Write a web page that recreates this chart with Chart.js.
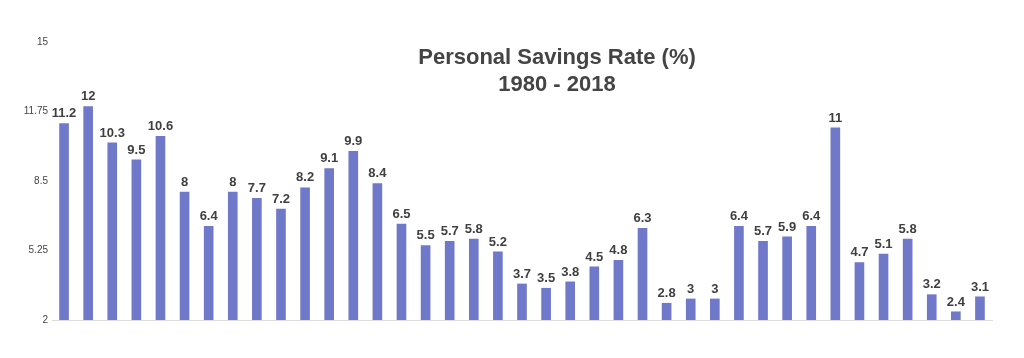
<!DOCTYPE html>
<html>
<head>
<meta charset="utf-8">
<script src="https://cdn.jsdelivr.net/npm/chart.js@4"></script>
<style>
  html, body { margin: 0; padding: 0; background: #fff; }
  #wrap { width: 1024px; height: 358px; }
</style>
</head>
<body>
<div id="wrap"><canvas id="grafica" width="1024" height="358"></canvas></div>
<script>
const years = [];
for (let y = 1980; y <= 2018; y++) years.push(String(y));
const savingsRate = [11.2, 12, 10.3, 9.5, 10.6, 8, 6.4, 8, 7.7, 7.2, 8.2, 9.1, 9.9, 8.4, 6.5,
  5.5, 5.7, 5.8, 5.2, 3.7, 3.5, 3.8, 4.5, 4.8, 6.3, 2.8, 3, 3, 6.4, 5.7, 5.9, 6.4, 11,
  4.7, 5.1, 5.8, 3.2, 2.4, 3.1];
const yTicks = [2, 5.25, 8.5, 11.75, 15];
const titleLines = ["Personal Savings Rate (%)", "1980 - 2018"];

const fuente = '"Helvetica Neue", Helvetica, Arial, "Liberation Sans", sans-serif';

// etiquetas de valor encima de cada barra
const etiquetas = {
  id: "etiquetas",
  afterDatasetsDraw(chart) {
    const ctx = chart.ctx;
    const meta = chart.getDatasetMeta(0);
    ctx.save();
    ctx.font = "bold 13px " + fuente;
    ctx.fillStyle = "#3f3f3f";
    ctx.textAlign = "center";
    ctx.textBaseline = "bottom";
    meta.data.forEach((bar, i) => {
      ctx.fillText(String(savingsRate[i]), bar.x, bar.y - 3);
    });
    ctx.restore();
  }
};

// titulo dentro del area del grafico
const titulo = {
  id: "titulo",
  afterDraw(chart) {
    const ctx = chart.ctx;
    ctx.save();
    ctx.font = "bold 22px " + fuente;
    ctx.fillStyle = "#444";
    ctx.textAlign = "center";
    ctx.textBaseline = "middle";
    ctx.fillText(titleLines[0], 557, 58);
    ctx.fillText(titleLines[1], 557, 85);
    ctx.restore();
  }
};

const ctx = document.getElementById("grafica").getContext("2d");
window.chart = new Chart(ctx, {
  type: "bar",
  data: {
    labels: years,
    datasets: [{
      label: "Personal Savings Rate (%)",
      data: savingsRate,
      backgroundColor: "#6f78c9",
      barPercentage: 0.4,
      categoryPercentage: 1
    }]
  },
  options: {
    responsive: false,
    animation: false,
    layout: { padding: { top: 42, right: 32, bottom: 30, left: 0 } },
    plugins: {
      legend: { display: false },
      tooltip: { enabled: false }
    },
    scales: {
      x: {
        grid: { display: false },
        border: { color: "#dcdcdc", width: 1 },
        ticks: { display: false }
      },
      y: {
        min: 2,
        max: 15,
        afterFit(scale) { scale.width = 52; },
        afterBuildTicks(scale) { scale.ticks = yTicks.map(v => ({ value: v })); },
        grid: { display: false, drawTicks: false, tickLength: 0 },
        border: { display: false },
        ticks: {
          padding: 4,
          color: "#444",
          font: { family: fuente, size: 10 },
          callback: v => String(v)
        }
      }
    }
  },
  plugins: [etiquetas, titulo]
});
</script>
</body>
</html>
